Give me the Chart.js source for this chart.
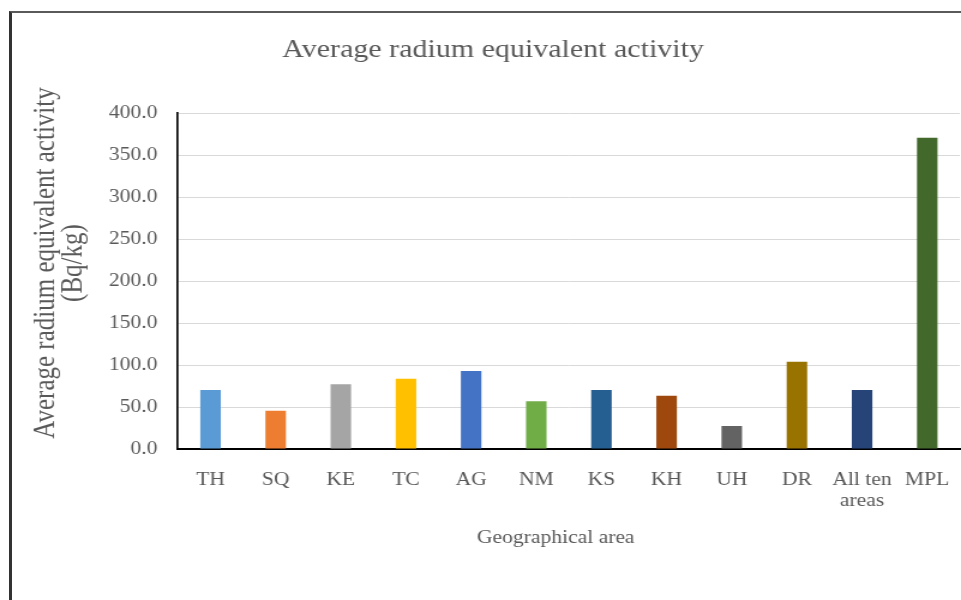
<!DOCTYPE html>
<html>
<head>
<meta charset="utf-8">
<script src="https://cdn.jsdelivr.net/npm/chart.js@4/dist/chart.umd.min.js"></script>
<style>
  html, body { margin: 0; padding: 0; background: #ffffff; }
  #wrap { position: relative; width: 961px; height: 600px; overflow: hidden; }
  #frame {
    position: absolute; left: 9px; top: 11px; right: 0; bottom: 0;
    border-left: 3px solid #333333; border-top: 2px solid #5a5a5a;
    pointer-events: none;
  }
</style>
</head>
<body>
<div id="wrap">
  <!-- drawn at 801 px wide, shown at 961 px: the chart uses a wide, slightly stretched face -->
  <canvas id="c" width="801" height="600" style="position:absolute;left:0;top:0;width:961px;height:600px;"></canvas>
  <div id="frame"></div>
</div>
<script>
// Geographical areas and their average radium equivalent activity (Bq/kg)
const areas = ['TH', 'SQ', 'KE', 'TC', 'AG', 'NM', 'KS', 'KH', 'UH', 'DR', ['All ten', 'areas'], 'MPL'];
const raEq = [70.2, 45.6, 77.0, 83.7, 92.9, 56.8, 70.2, 63.5, 27.4, 103.9, 70.2, 370.6];
const barColors = ['#5B9BD5', '#ED7D31', '#A5A5A5', '#FFC000', '#4472C4', '#70AD47',
                   '#255E91', '#9E480E', '#636363', '#997300', '#264478', '#43682B'];
const yTicks = [0, 50, 100, 150, 200, 250, 300, 350, 400];

const SERIF = '"Liberation Serif", "Times New Roman", serif';
const GREY = '#595959';

// Nudges the chart title and the axis titles off their default centres
const titleOffsets = {
  id: 'titleOffsets',
  afterLayout(chart) {
    if (chart.titleBlock && !chart.titleBlock._shifted) {
      chart.titleBlock.left += 22;
      chart.titleBlock._shifted = true;
    }
    const shift = (scale, dx, dy) => {
      if (!scale || scale._shifted) return;
      const orig = scale.drawTitle;
      scale.drawTitle = function () {
        this.ctx.save();
        this.ctx.translate(dx, dy);
        orig.call(this);
        this.ctx.restore();
      };
      scale._shifted = true;
    };
    shift(chart.scales.y, 0, -18);
    shift(chart.scales.x, -11, 0);
  }
};

const canvas = document.getElementById('c');
new Chart(canvas, {
  type: 'bar',
  data: {
    labels: areas,
    datasets: [{
      data: raEq,
      backgroundColor: barColors,
      borderWidth: 0,
      categoryPercentage: 1.0,
      barPercentage: 0.315
    }]
  },
  options: {
    responsive: false,
    devicePixelRatio: 1,
    animation: false,
    layout: { padding: { left: 0, right: 1, top: 0, bottom: 0 } },
    plugins: {
      legend: { display: false },
      tooltip: { enabled: false },
      title: {
        display: true,
        text: 'Average radium equivalent activity',
        color: GREY,
        font: { family: SERIF, size: 25, weight: 'normal', lineHeight: 1.2 },
        padding: { top: 35, bottom: 48 }
      }
    },
    scales: {
      x: {
        grid: { display: false, drawTicks: true, tickLength: 20 },
        border: { display: true, color: '#000000', width: 2 },
        ticks: {
          color: GREY,
          font: { family: SERIF, size: 18, lineHeight: 1.2 },
          padding: 0,
          maxRotation: 0,
          minRotation: 0,
          autoSkip: false
        },
        title: {
          display: true,
          text: 'Geographical area',
          color: GREY,
          font: { family: SERIF, size: 18, lineHeight: 1.2 },
          padding: { top: 17, bottom: 51 }
        },
        afterFit: (s) => { s.height = 151; }
      },
      y: {
        min: 0,
        max: 400,
        afterBuildTicks: (s) => { s.ticks = yTicks.map(v => ({ value: v })); },
        grid: { color: '#d9d9d9', lineWidth: 1, drawTicks: false },
        border: { display: true, color: '#000000', width: 1.7 },
        ticks: {
          color: GREY,
          font: { family: SERIF, size: 18 },
          padding: 17,
          callback: (v) => Number(v).toFixed(1)
        },
        title: {
          display: true,
          text: ['Average radium equivalent activity', '(Bq/kg)'],
          color: GREY,
          font: { family: SERIF, size: 25, lineHeight: 0.92 },
          padding: { top: 27, bottom: 18 }
        },
        afterFit: (s) => { s.width = 148.3; }
      }
    }
  },
  plugins: [titleOffsets]
});
// keep the wide display size after Chart.js has sized the drawing buffer
canvas.style.width = '961px';
canvas.style.height = '600px';
</script>
</body>
</html>
